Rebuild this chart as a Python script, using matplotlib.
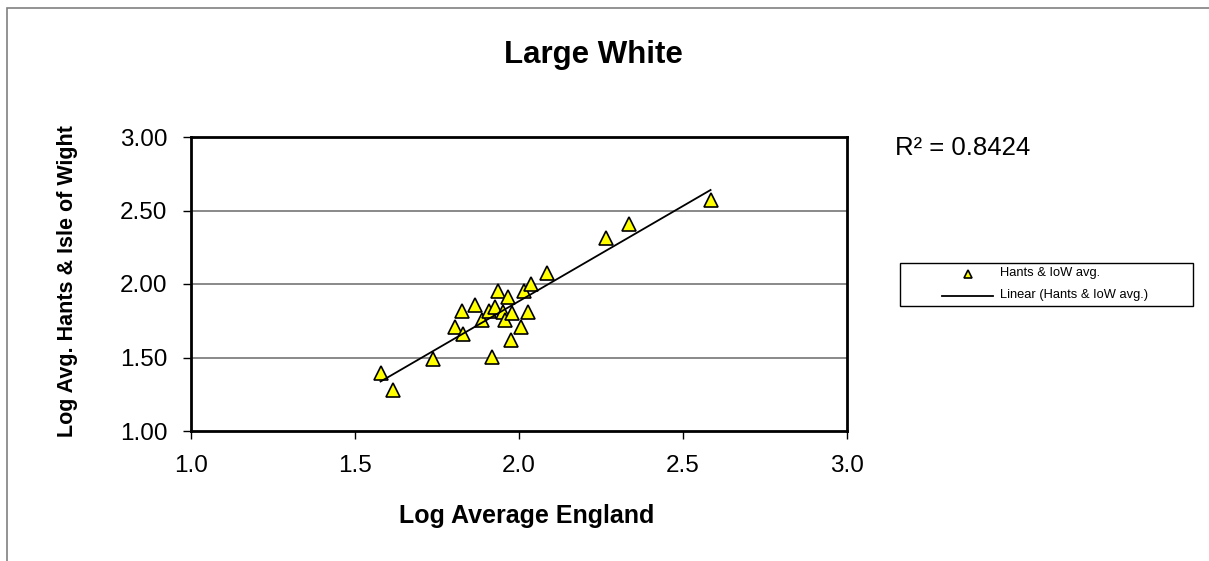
import numpy as np
import matplotlib
matplotlib.use("Agg")
import matplotlib.pyplot as plt
from matplotlib.patches import Rectangle
from matplotlib.lines import Line2D

plt.rcParams['font.family'] = ['Liberation Sans', 'DejaVu Sans']

log_england = [1.578, 1.617, 1.737, 1.806, 1.828, 1.827, 1.867, 1.887, 1.917, 1.909,
               1.927, 1.936, 1.967, 1.952, 1.957, 1.978, 1.975, 2.006, 2.026, 2.015,
               2.038, 2.086, 2.265, 2.335, 2.584]
log_hants = [1.393, 1.279, 1.488, 1.710, 1.660, 1.818, 1.857, 1.755, 1.501, 1.816,
             1.841, 1.955, 1.914, 1.812, 1.755, 1.800, 1.619, 1.706, 1.812, 1.952,
             2.000, 2.077, 2.311, 2.408, 2.571]
x_ticks = [1.0, 1.5, 2.0, 2.5, 3.0]
y_ticks = [1.00, 1.50, 2.00, 2.50, 3.00]
r2_text = "R² = 0.8424"
series_label = "Hants & IoW avg."
trend_label = "Linear (Hants & IoW avg.)"

x = np.array(log_england)
y = np.array(log_hants)

W, H = 1209, 561
fig = plt.figure(figsize=(W / 100, H / 100), dpi=100)


def fx(px):
    return px / W


def fy(py):
    return 1 - py / H


# outer chart border
fig.patches.append(Rectangle((fx(7), -0.1), 1.2, fy(8) + 0.1, transform=fig.transFigure,
                             fill=False, edgecolor='#808080', lw=1.2))

ax = fig.add_axes([fx(191), fy(431), (847 - 191) / W, (431 - 137) / H])
ax.set_xlim(1.0, 3.0)
ax.set_ylim(1.0, 3.0)
ax.set_xticks(x_ticks)
ax.set_yticks(y_ticks)
ax.set_xticklabels([f"{v:.1f}" for v in x_ticks], fontsize=17.5)
ax.set_yticklabels([f"{v:.2f}" for v in y_ticks], fontsize=17.5)
ax.tick_params(direction='out', length=6, width=1, color='black', pad=11)
for s in ax.spines.values():
    s.set_linewidth(2)
    s.set_color('black')
for v in [1.5, 2.0, 2.5]:
    ax.axhline(v, color='#808080', lw=1.3, zorder=0)

marker_kw = dict(marker='^', markerfacecolor='#FFFF00', markeredgecolor='black',
                 markeredgewidth=1.2, linestyle='none')
ax.plot(x, y, markersize=9.8, zorder=3, **marker_kw)
m, b = np.polyfit(x, y, 1)
xs = np.array([x.min(), x.max()])
ax.plot(xs, m * xs + b, color='black', lw=1.3, zorder=4)

ax.set_ylabel("Log Avg. Hants & Isle of Wight", fontsize=15.5, fontweight='bold')
ax.yaxis.set_label_coords((78 - 191) / 656, (431 - 281.5) / 294)

fig.text(fx(527), fy(523), "Log Average England", fontsize=18, fontweight='bold',
         ha='center', va='baseline')
fig.text(fx(593), fy(63), "Large White", fontsize=22.5, fontweight='bold',
         ha='center', va='baseline')
fig.text(fx(895), fy(155), r2_text, fontsize=18.5, ha='left', va='baseline')

# legend
fig.patches.append(Rectangle((fx(900), fy(306)), (1193 - 900) / W, (306 - 263) / H,
                             transform=fig.transFigure, fill=False,
                             edgecolor='black', lw=1.0))
fig.lines.append(Line2D([fx(968)], [fy(274)], transform=fig.transFigure,
                        markersize=6, **marker_kw))
fig.lines.append(Line2D([fx(942), fx(993)], [fy(295.5), fy(295.5)],
                        transform=fig.transFigure, color='black', lw=1.3))
fig.text(fx(1000), fy(273), series_label, fontsize=9.3, ha='left', va='center')
fig.text(fx(1000), fy(295), trend_label, fontsize=9.3, ha='left', va='center')

fig.savefig("out.png", dpi=100)
